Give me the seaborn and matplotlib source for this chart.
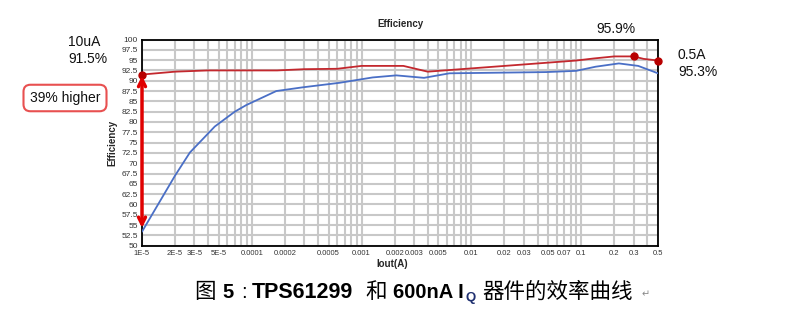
import matplotlib
matplotlib.use('Agg')
import matplotlib.pyplot as plt
import matplotlib.ticker as mticker
import numpy as np
import pandas as pd
import seaborn as sns

# data
red_iout = [1e-5, 2e-5, 4e-5, 1.7e-4, 3e-4, 6e-4, 1e-3, 2.4e-3, 4e-3, 0.09, 0.13, 0.2, 0.3, 0.37, 0.5]
red_eff = [91.5, 92.2, 92.5, 92.5, 92.8, 92.9, 93.6, 93.6, 92.2, 94.9, 95.4, 95.9, 95.9, 95.3, 94.9]
blue_iout = [1e-5, 2e-5, 2.73e-5, 4.6e-5, 7e-5, 8.9e-5, 1.67e-4, 2.9e-4, 6.3e-4,
             1.26e-3, 2.07e-3, 3.7e-3, 6.3e-3, 0.048, 0.09, 0.135, 0.22, 0.33, 0.5]
blue_eff = [53.4, 67.0, 72.6, 78.9, 82.5, 84.1, 87.5, 88.4, 89.5,
            90.8, 91.3, 90.7, 91.8, 92.1, 92.4, 93.4, 94.2, 93.6, 91.8]
mark_iout = [1e-5, 0.3, 0.5]
mark_eff = [91.5, 95.9, 94.9]
xtick_vals = [1e-5, 2e-5, 3e-5, 5e-5, 1e-4, 2e-4, 5e-4, 1e-3, 2e-3, 3e-3, 5e-3,
              0.01, 0.02, 0.03, 0.05, 0.07, 0.1, 0.2, 0.3, 0.5]
xtick_labels = ['1E-5', '2E-5', '3E-5', '5E-5', '0.0001', '0.0002', '0.0005', '0.001',
                '0.002', '0.003', '0.005', '0.01', '0.02', '0.03', '0.05', '0.07', '0.1',
                '0.2', '0.3', '0.5']
ytick_vals = np.arange(50, 100.1, 2.5)

df = pd.concat([
    pd.DataFrame({'Iout': red_iout, 'Eff': red_eff, 'dev': 'TPS61299'}),
    pd.DataFrame({'Iout': blue_iout, 'Eff': blue_eff, 'dev': '600nA'}),
])

sns.set_style('white')
plt.rcParams['font.family'] = ['Liberation Sans', 'Noto Sans CJK SC', 'DejaVu Sans']

fig = plt.figure(figsize=(7.94, 3.17), dpi=100)
W, H = 794, 317
ax = fig.add_axes([142 / W, 1 - 245.7 / H, 516 / W, 206.2 / H])

sns.lineplot(data=df, x='Iout', y='Eff', hue='dev', palette={'TPS61299': '#c3282e', '600nA': '#4a6fc6'},
             lw=1.3, ax=ax, legend=False, sort=False, zorder=3)
ax.plot(mark_iout, mark_eff, ls='none', marker='o', ms=5, color='#b80000', zorder=4, clip_on=False)

ax.set_xscale('log')
ax.set_xlim(1e-5, 0.5)
ax.set_ylim(50, 100)
ax.set_xticks(xtick_vals)
ax.set_xticklabels(xtick_labels)
ax.xaxis.set_minor_locator(mticker.LogLocator(base=10, subs=np.arange(1, 10), numticks=20))
ax.xaxis.set_minor_formatter(mticker.NullFormatter())
ax.set_yticks(ytick_vals)
ax.set_yticklabels(['%g' % v for v in ytick_vals])
ax.grid(True, which='both', axis='x', color='#c8c8c8', lw=1.5)
ax.grid(True, which='major', axis='y', color='#c8c8c8', lw=1.5)
ax.set_axisbelow(True)
ax.tick_params(which='both', length=0, labelcolor='#333333', pad=3)
ax.tick_params(axis='x', labelsize=5.5)
ax.tick_params(axis='y', labelsize=6)
for s in ax.spines.values():
    s.set_color('black')
    s.set_linewidth(1.3)

ax.set_title('Efficiency', fontsize=7, fontweight='bold', pad=9)
ax.set_xlabel('Iout(A)', fontsize=7, fontweight='bold')
ax.xaxis.set_label_coords(0.485, -0.065)
ax.set_ylabel('Efficiency', fontsize=7, fontweight='bold', labelpad=3)

# double arrow along left axis
ax.annotate('', xy=(1e-5, 54.3), xytext=(1e-5, 91.2),
            arrowprops=dict(arrowstyle='<->,head_length=0.5,head_width=0.25', color='#e00000', lw=2.5,
                            shrinkA=0, shrinkB=0), annotation_clip=False, zorder=5)

# side annotations
fig.text(68 / W, 1 - 41.7 / H, '10uA', ha='left', va='center', fontsize=10, color='#111111')
fig.text(68 / W, 1 - 59.3 / H, '91.5%', ha='left', va='center', fontsize=10, color='#111111')
fig.text(65 / W, 1 - 98 / H, '39% higher', ha='center', va='center', fontsize=10, color='#111111',
         bbox=dict(boxstyle='round,pad=0.45,rounding_size=0.5', fc='white', ec='#e85050', lw=1.5))
fig.text(616 / W, 1 - 29.3 / H, '95.9%', ha='center', va='center', fontsize=10, color='#111111')
fig.text(678 / W, 1 - 55 / H, '0.5A', ha='left', va='center', fontsize=10, color='#111111')
fig.text(678 / W, 1 - 72.3 / H, '95.3%', ha='left', va='center', fontsize=10, color='#111111')

# caption pieces placed at the spots they take in the reference
cjk = ['Noto Sans CJK SC', 'DejaVu Sans']
lat = ['Liberation Sans', 'DejaVu Sans']
base = 297.5
caption = [
    (194, '图', cjk, 'normal', 15.5, 'black', 0),
    (222, '5', lat, 'bold', 14.5, 'black', 0),
    (241, ':', lat, 'normal', 14.5, 'black', 0),
    (252, 'TPS61299', lat, 'bold', 15.5, 'black', 0),
    (365, '和', cjk, 'normal', 15.5, 'black', 0),
    (393, '600nA I', lat, 'bold', 14.5, 'black', 0),
    (465, 'Q', lat, 'bold', 9.5, '#203070', -3),
    (482, '器件的效率曲线', cjk, 'normal', 15.5, 'black', 0),
    (642, '\u21b5', ['DejaVu Sans'], 'normal', 7, '#888888', 0),
]
for x0, txt, fam, wt, sz, col, dy in caption:
    fig.text(x0 / W, 1 - (base - dy) / H, txt, family=fam, fontweight=wt, fontsize=sz,
             color=col, ha='left', va='baseline')

fig.savefig('out.png', dpi=100)
